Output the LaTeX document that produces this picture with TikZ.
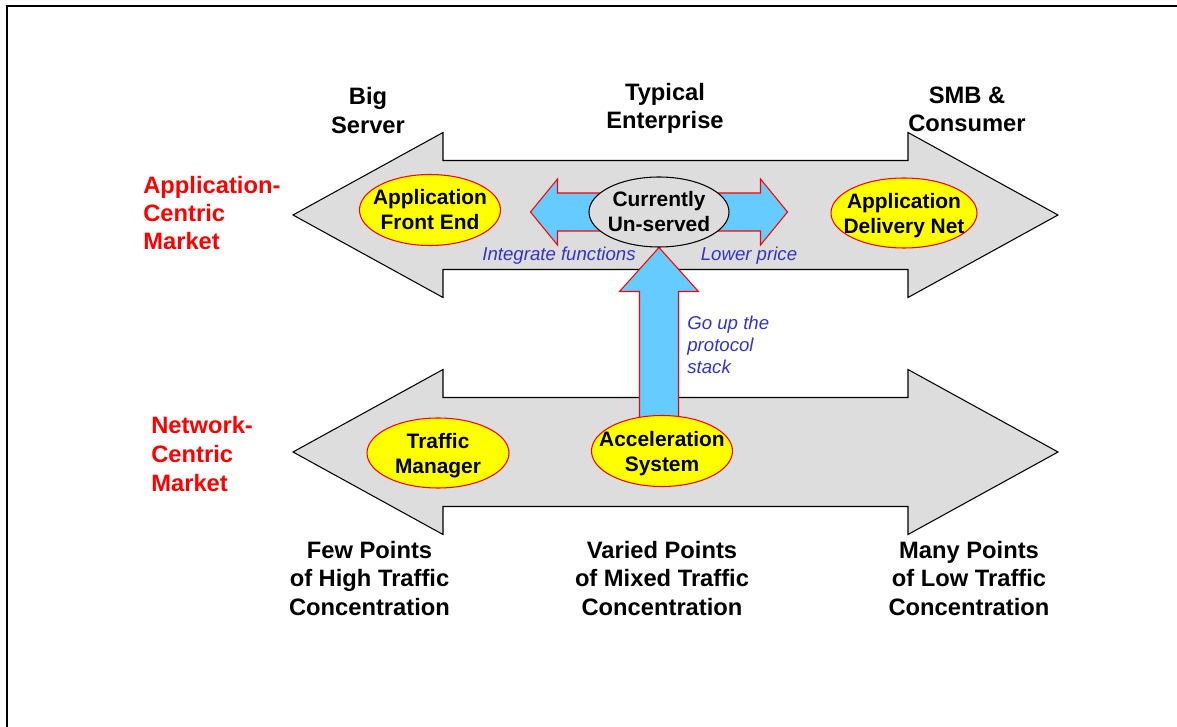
\documentclass[tikz,border=0pt]{standalone}
\usepackage{fontspec}
\setmainfont{Liberation Sans}
\usetikzlibrary{calc,shapes.geometric}
\definecolor{slab}{HTML}{DDDDDD}
\definecolor{sky}{HTML}{66CCFF}
\definecolor{hot}{HTML}{FF0000}
\definecolor{lemon}{HTML}{FFFF00}
\definecolor{hint}{HTML}{3333CC}
\pgfdeclarelayer{under}
\pgfsetlayers{under,main}

\begin{document}
\begin{tikzpicture}[
  bigtext/.style={font=\bfseries\fontsize{13.5}{16}\selectfont, align=center},
  redtext/.style={text=hot, font=\bfseries\fontsize{13.5}{15.8}\selectfont,
                  align=left, anchor=west, inner sep=0pt},
  hinttext/.style={text=hint, font=\itshape\fontsize{10.6}{12.5}\selectfont, inner sep=0pt},
  oval/.style={ellipse, draw=hot, fill=lemon, line width=0.6pt, inner sep=0pt},
  ovaltext/.style={font=\bfseries\fontsize{11.9}{14.2}\selectfont, align=center},
  slabarrow/.style={fill=slab, draw=black, line width=0.6pt},
  skyarrow/.style={fill=sky, draw=hot, line width=0.6pt}]
  \useasboundingbox (0,0) rectangle (23.54,14.54);
  \draw[line width=1.1pt] (0.14,0) -- (0.14,14.42) -- (23.54,14.42);

  % ovals
  \node[oval, minimum width=2.82cm, minimum height=1.42cm,
        label={[ovaltext]center:Application\\Front End}] (afe) at (8.60,10.34) {};
  \node[oval, draw=black, fill=slab, minimum width=2.80cm, minimum height=1.40cm,
        label={[ovaltext]center:Currently\\Un-served}] (cu) at (13.18,10.30) {};
  \node[oval, minimum width=2.92cm, minimum height=1.40cm,
        label={[ovaltext, yshift=-0.06cm]center:Application\\Delivery Net}] (adn) at (18.08,10.28) {};
  \node[oval, minimum width=2.84cm, minimum height=1.40cm,
        label={[ovaltext, yshift=-0.06cm]center:Traffic\\Manager}] (tm) at (8.76,5.48) {};
  \node[oval, minimum width=2.82cm, minimum height=1.42cm,
        label={[ovaltext, yshift=-0.06cm]center:Acceleration\\System}] (acc) at (13.24,5.52) {};

  % labels
  \node[bigtext] (big) at (7.36,12.33) {Big\\Server};
  \node[bigtext] (typ) at (13.30,12.37) {Typical\\Enterprise};
  \node[bigtext] (smb) at (19.34,12.35) {SMB \&\\Consumer};
  \node[redtext] (appm) at (2.86,10.28) {Application-\\Centric\\Market};
  \node[redtext, font=\bfseries\fontsize{13.5}{16.4}\selectfont] (netm) at (3.02,5.46) {Network-\\Centric\\Market};
  \node[hinttext] (intg) at (11.18,9.43) {Integrate functions};
  \node[hinttext] (lowp) at (14.98,9.43) {Lower price};
  \node[hinttext, anchor=west, align=left] (gup) at (13.74,7.65) {Go up the\\protocol\\stack};
  \node[bigtext] (few) at (7.39,2.97) {Few Points\\of High Traffic\\Concentration};
  \node[bigtext] (var) at (13.24,2.97) {Varied Points\\of Mixed Traffic\\Concentration};
  \node[bigtext] (many) at (19.38,2.97) {Many Points\\of Low Traffic\\Concentration};

  \begin{pgfonlayer}{under}
    \foreach \y in {10.24,5.50}
      \draw[slabarrow] (5.86,\y) -- (8.86,\y+1.65) -- (8.86,\y+1.09) -- (18.16,\y+1.09)
        -- (18.16,\y+1.65) -- (21.16,\y) -- (18.16,\y-1.65) -- (18.16,\y-1.09)
        -- (8.86,\y-1.09) -- (8.86,\y-1.65) -- cycle;
    \foreach \s in {-1,1}
      \draw[skyarrow] ($(cu)+(0,0.38)$) -- ($(cu)+(2.03*\s,0.38)$) -- ($(cu)+(2.03*\s,0.66)$)
        -- ($(cu)+(2.57*\s,0)$) -- ($(cu)+(2.03*\s,-0.66)$) -- ($(cu)+(2.03*\s,-0.38)$)
        -- ($(cu)+(0,-0.38)$) -- cycle;
    \coordinate (vbot) at (cu.south |- acc.center);
    \draw[skyarrow] ($(vbot)+(-0.39,0)$) -- ($(cu.south)+(-0.39,-0.88)$)
      -- ($(cu.south)+(-0.79,-0.88)$) -- (cu.south) -- ($(cu.south)+(0.79,-0.88)$)
      -- ($(cu.south)+(0.39,-0.88)$) -- ($(vbot)+(0.39,0)$) -- cycle;
  \end{pgfonlayer}
\end{tikzpicture}
\end{document}
